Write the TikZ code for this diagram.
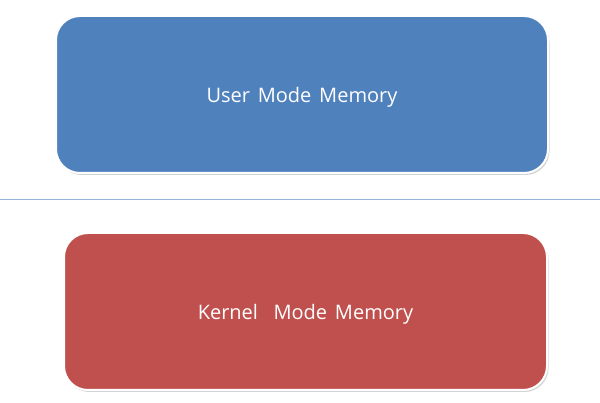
\documentclass[tikz,border=0pt]{standalone}
\usepackage{fontspec}
\setmainfont{Open Sans}[WordSpace=1.5]
\usetikzlibrary{shadows}
\definecolor{userblue}{HTML}{4F81BD}
\definecolor{kernelred}{HTML}{C0504D}
\definecolor{splitline}{HTML}{95B3D7}
\tikzset{
  membox/.style={draw=white,line width=2pt,rounded corners=24pt,
    minimum width=#1,minimum height=157pt,text depth=0pt,
    drop shadow={shadow xshift=1.5pt,shadow yshift=-2pt,opacity=0.35},
    text=white,font=\fontsize{20}{24}\selectfont},
}
\begin{document}
\begin{tikzpicture}[x=1pt,y=-1pt]
  \useasboundingbox (0,0) rectangle (600,403);
  % memory regions
  \node[membox=492pt,fill=userblue] (user) at (302,94.5) {User Mode Memory};
  \draw[splitline,line width=1pt] (0,199.5) -- (600,199.5);
  \node[membox=483pt,fill=kernelred] (kernel) at (305.5,311.5) {Kernel\ \ Mode Memory};
\end{tikzpicture}
\end{document}
